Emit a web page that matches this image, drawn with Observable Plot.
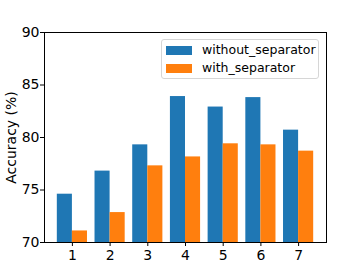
<!DOCTYPE html>
<html>
<head>
<meta charset="utf-8">
<script src="https://cdn.jsdelivr.net/npm/d3@7"></script>
<script src="https://cdn.jsdelivr.net/npm/@observablehq/plot@0.6"></script>
<style>
  body { margin: 0; background: #fff; }
  #wrap { position: relative; width: 363px; height: 272px; font-family: "DejaVu Sans", sans-serif; }
  .legend { position: absolute; left: 161px; top: 39px; width: 158px; height: 40px;
    border: 1px solid #d6d6d6; border-radius: 3px; background: rgba(255,255,255,0.8); box-sizing: border-box; }
  .item { position: absolute; left: 4px; height: 9px; width: 160px; }
  .sw { position: absolute; left: 0; top: 0; width: 26px; height: 9px; }
  .lab { position: absolute; left: 36px; top: -6px; font-size: 12.5px; line-height: 20px; white-space: nowrap; color: #000; }
</style>
</head>
<body>
<div id="wrap"></div>
<script>
const categories = [1, 2, 3, 4, 5, 6, 7];
const withoutSeparator = [74.6, 76.8, 79.3, 83.9, 82.9, 83.8, 80.7];
const withSeparator = [71.1, 72.85, 77.3, 78.15, 79.4, 79.3, 78.7];
const seriesNames = ["without_separator", "with_separator"];
const colors = ["#1f77b4", "#ff7f0e"];
const yTicks = [70, 75, 80, 85, 90];
const yLabel = "Accuracy (%)";

const barW = 0.4;
const rows = [];
categories.forEach((c, i) => {
  rows.push({cat: c, s: seriesNames[0], x1: c - barW, x2: c, v: withoutSeparator[i]});
  rows.push({cat: c, s: seriesNames[1], x1: c, x2: c + barW, v: withSeparator[i]});
});
const xMin = categories[0] - barW, xMax = categories[categories.length - 1] + barW;
const pad = (xMax - xMin) * 0.05;

const chart = Plot.plot({
  width: 363,
  height: 272,
  marginLeft: 44,
  marginRight: 37,
  marginTop: 32,
  marginBottom: 30,
  style: {fontFamily: "DejaVu Sans, sans-serif", fontSize: "14px", color: "#000", background: "#fff"},
  x: {domain: [xMin - pad, xMax + pad], ticks: categories, tickFormat: d3.format("d")},
  y: {domain: [yTicks[0], yTicks[yTicks.length - 1]], ticks: yTicks},
  color: {domain: seriesNames, range: colors},
  marks: [
    Plot.rectY(rows, {x1: "x1", x2: "x2", y1: yTicks[0], y2: "v", fill: "s", clip: true}),
    Plot.axisX({ticks: categories, tickSize: 4, tickPadding: 4, fontSize: 14, label: null, tickFormat: d3.format("d")}),
    Plot.axisY({ticks: yTicks, tickSize: 4, tickPadding: 1, fontSize: 14, label: yLabel, labelAnchor: "center", labelArrow: "none", labelOffset: 38}),
    Plot.frame({stroke: "#000", strokeWidth: 1})
  ]
});
const wrap = document.getElementById("wrap");
wrap.appendChild(chart);

const lg = document.createElement("div");
lg.className = "legend";
seriesNames.forEach((n, i) => {
  const it = document.createElement("div");
  it.className = "item";
  it.style.top = (i === 0 ? 6 : 24) + "px";
  it.innerHTML = `<div class="sw" style="background:${colors[i]}"></div><div class="lab">${n}</div>`;
  lg.appendChild(it);
});
wrap.appendChild(lg);
</script>
</body>
</html>
